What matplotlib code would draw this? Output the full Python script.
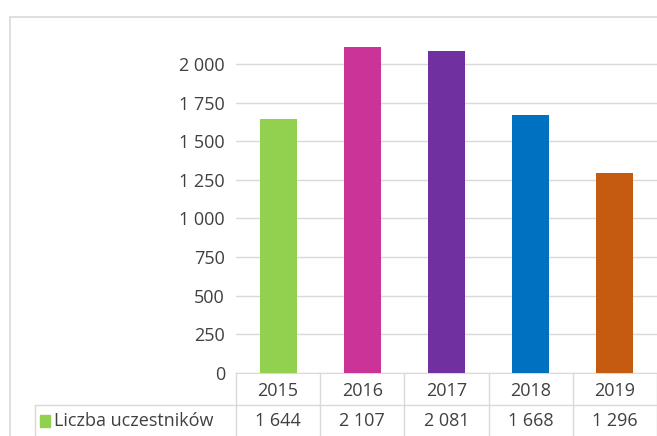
import matplotlib.pyplot as plt
from matplotlib.patches import Rectangle
from matplotlib.lines import Line2D
import matplotlib.transforms as mtransforms

# data
years = ["2015", "2016", "2017", "2018", "2019"]
participants = [1644, 2107, 2081, 1668, 1296]
bar_colors = ["#92D050", "#CC3399", "#7030A0", "#0070C0", "#C55A11"]
series_name = "Liczba uczestników"
y_ticks = [0, 250, 500, 750, 1000, 1250, 1500, 1750, 2000]

plt.rcParams["font.family"] = ["Open Sans", "DejaVu Sans"]
text_color = "#404040"
grid_color = "#D9D9D9"
fsize = 13
W, H = 657, 436


def fmt(v):
    return f"{v:,}".replace(",", " ")


fig = plt.figure(figsize=(W / 100, H / 100), dpi=100)

# outer chart frame (cropped)
fig.add_artist(Rectangle((10 / W, -0.1), 1.2, (H - 17) / H + 0.1,
                         transform=fig.transFigure, fill=False,
                         edgecolor=grid_color, linewidth=1.2))

ax_left, ax_right = 236 / W, 657 / W
ax_bottom, ax_top = 1 - 373 / H, 1 - 33 / H
ax = fig.add_axes([ax_left, ax_bottom, ax_right - ax_left, ax_top - ax_bottom])

x = list(range(len(years)))
ax.bar(x, participants, width=0.44, color=bar_colors, zorder=3)

ax.set_xlim(-0.5, len(years) - 0.5)
ax.set_ylim(0, 2200)
ax.set_yticks(y_ticks)
ax.set_yticklabels([fmt(v) for v in y_ticks], fontsize=fsize, color=text_color)
ax.tick_params(axis="y", length=0, pad=8)
ax.set_xticks([])
ax.grid(axis="y", color=grid_color, linewidth=1, zorder=0)
for side in ["left", "right", "top"]:
    ax.spines[side].set_visible(False)
ax.spines["bottom"].set_color(grid_color)

# data table under the axis
trans = mtransforms.blended_transform_factory(ax.transData, ax.transAxes)
ax_h = 373 - 33
row1 = -32 / ax_h
row2 = -64 / ax_h
label_left = -(236 - 35) / (657 - 236) * len(years) - 0.5

for i in range(len(years) + 1):
    ax.add_line(Line2D([i - 0.5, i - 0.5], [0, row2 - 0.05], transform=trans,
                       color=grid_color, linewidth=1, clip_on=False))
ax.add_line(Line2D([label_left, len(years) - 0.5], [row1, row1], transform=trans,
                   color=grid_color, linewidth=1, clip_on=False))
ax.add_line(Line2D([label_left, label_left], [row1, row2 - 0.05], transform=trans,
                   color=grid_color, linewidth=1, clip_on=False))

for i, (yr, v) in enumerate(zip(years, participants)):
    ax.text(i, row1 / 2 - 0.005, yr, transform=trans, ha="center", va="center",
            fontsize=fsize, color=text_color)
    ax.text(i, (row1 + row2) / 2, fmt(v), transform=trans, ha="center",
            va="center", fontsize=fsize, color=text_color)

ax.add_patch(Rectangle((label_left + 0.06, (row1 + row2) / 2 - 0.017), 0.12, 0.034,
                       transform=trans, color=bar_colors[0], clip_on=False))
ax.text(label_left + 0.22, (row1 + row2) / 2, series_name, transform=trans,
        ha="left", va="center", fontsize=fsize, color=text_color)

fig.savefig("out.png", dpi=100)
